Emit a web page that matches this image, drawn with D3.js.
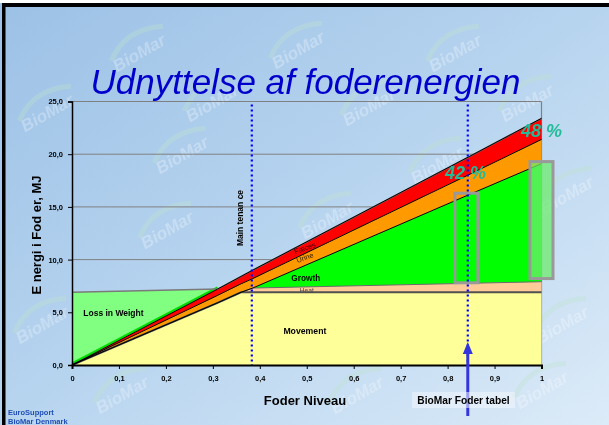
<!DOCTYPE html>
<html><head><meta charset="utf-8">
<script src="https://cdn.jsdelivr.net/npm/d3@7"></script>
<style>html,body{margin:0;padding:0;background:#fff}svg{display:block}</style>
</head><body>
<script>
// ---------- data ----------
const feedLevels   = [0, 0.31, 0.36, 0.385, 0.845, 1];
const movement     = [0, 5.9, 6.9, 6.9, 6.9, 6.9];
const heat         = [0, 0, 0, 0.4, 0.85, 1.0];
const growth       = [0, 0, 0, 0, 8.4, 11.2];
const urine        = [0, 0.7, 0.8, 0.9, 1.9, 2.3];
const faeces       = [0, 0.6, 0.7, 0.8, 1.7, 2.0];
const lossInWeight = [6.9, 0, 0, 0, 0, 0];
const seriesKeys   = ["Movement","Heat","Growth","Urine","Faeces","Loss in Weight"];
const yTicks = [0,5,10,15,20,25];
const yTickLabels = ["0,0","5,0","10,0","15,0","20,0","25,0"];
const xTicks = [0,0.1,0.2,0.3,0.4,0.5,0.6,0.7,0.8,0.9,1];
const xTickLabels = ["0","0,1","0,2","0,3","0,4","0,5","0,6","0,7","0,8","0,9","1"];
const maintenanceLevel = 0.383;
const foderTabelLevel = 0.843;
const boxLevels = [0.84, 1.0];
const boxLow    = [7.8, 8.2];
const boxHigh   = [16.3, 19.3];
const pctLabels = ["42 %", "48 %"];
const pctLevels = [0.838, 1.0];
const pctValues = [17.6, 21.6];

const W = 609, H = 425;
const svg = d3.select("body").append("svg").attr("width", W).attr("height", H)
  .style("font-family", "'Liberation Sans', Arial, sans-serif");

// ---------- background ----------
const defs = svg.append("defs");
const lg = defs.append("linearGradient").attr("id","bg").attr("x1","0").attr("y1","0").attr("x2","1").attr("y2","1");
lg.append("stop").attr("offset","0").attr("stop-color","#9cc1e6");
lg.append("stop").attr("offset","0.5").attr("stop-color","#b7d4ef");
lg.append("stop").attr("offset","1").attr("stop-color","#dcebf8");
svg.append("rect").attr("width",W).attr("height",H).attr("fill","#fff");
svg.append("rect").attr("x",0).attr("y",3).attr("width",W).attr("height",H-3).attr("fill","url(#bg)");
const wm = [[142,58],[301,55],[458,58],[50,118],[215,108],[372,112],[530,108],[185,160],[440,170],[570,200],[170,235],[330,225],[530,225],[45,330],[260,320],[470,300],[565,330],[125,400],[360,400],[545,395]];
const wg = svg.append("g").attr("opacity",0.35);
wm.forEach(([px,py])=>{
  const g = wg.append("g").attr("transform",`translate(${px},${py}) rotate(-30)`);
  g.append("path").attr("d","M-28,-13 Q0,-34 34,-17").attr("fill","none").attr("stroke","#bfe3cf").attr("stroke-width",5);
  g.append("text").text("BioMar").attr("text-anchor","middle").attr("font-size",17)
    .attr("font-style","italic").attr("font-weight","bold").attr("fill","#ffffff").attr("opacity",0.8);
});
// frame lines
svg.append("rect").attr("x",2).attr("y",3).attr("width",W).attr("height",4).attr("fill","#000");
svg.append("rect").attr("x",2).attr("y",3).attr("width",3.5).attr("height",H).attr("fill","#000");

// ---------- scales ----------
const x = d3.scaleLinear().domain([0,1]).range([72,541.5]);
const y = d3.scaleLinear().domain([0,25]).range([365,101.5]);

// title
svg.append("text").text("Udnyttelse af foderenergien")
  .attr("x", 305.5).attr("y", 94).attr("text-anchor","middle")
  .attr("font-size", 35).attr("font-style","italic").attr("fill","#0000cc");

// gridlines + frame
svg.append("g").selectAll("line").data(yTicks.slice(1)).join("line")
  .attr("x1",x(0)).attr("x2",x(1)).attr("y1",d=>y(d)).attr("y2",d=>y(d))
  .attr("stroke","#808080").attr("stroke-width",1);
svg.append("line").attr("x1",x(1)).attr("x2",x(1)).attr("y1",y(25)).attr("y2",y(0))
  .attr("stroke","#808080").attr("stroke-width",1.2);

// ---------- stacked areas ----------
const rows = feedLevels.map((f,i)=>({feed:f, "Movement":movement[i], "Heat":heat[i], "Growth":growth[i],
  "Urine":urine[i], "Faeces":faeces[i], "Loss in Weight":lossInWeight[i]}));
const stack = d3.stack().keys(seriesKeys)(rows);
const fills = {"Movement":"#ffff99","Heat":"#ffcc99","Growth":"#00ff00","Urine":"#ff9900","Faeces":"#ff0000","Loss in Weight":"#80ff80"};
const area = d3.area().x(d=>x(d.data.feed)).y0(d=>y(d[0])).y1(d=>y(d[1]));
const topLine = d3.line().x(d=>x(d.data.feed)).y(d=>y(d[1]));
svg.append("g").selectAll("path").data(stack).join("path")
  .attr("d", area).attr("fill", s=>fills[s.key]);

const byKey = Object.fromEntries(stack.map(s=>[s.key,s]));
// green strip above the loss-region diagonal
svg.append("path").attr("d", topLine(byKey["Faeces"].slice(0,2)))
  .attr("transform","translate(0,-1.6)").attr("fill","none").attr("stroke","#00dd00").attr("stroke-width",2.2);
// edges
const edge = (key, color, w) => svg.append("path").attr("d", topLine(byKey[key]))
  .attr("fill","none").attr("stroke",color).attr("stroke-width",w);
edge("Loss in Weight","#7a7a7a",1.5);
edge("Heat","#6b6b6b",1);
edge("Movement","#505050",2);
edge("Growth","#000",1);
edge("Urine","#000",1);
edge("Faeces","#000",1);

// ---------- highlight boxes ----------
svg.append("g").selectAll("rect").data(boxLevels).join("rect")
  .attr("x",(d)=>x(d)-11.5).attr("width",23)
  .attr("y",(d,i)=>y(boxHigh[i])).attr("height",(d,i)=>y(boxLow[i])-y(boxHigh[i]))
  .attr("fill",(d,i)=> i===1 ? "rgba(110,235,110,0.75)" : "none")
  .attr("stroke","#999").attr("stroke-width",3);

// ---------- dotted reference lines ----------
[maintenanceLevel, foderTabelLevel].forEach(v=>{
  svg.append("line").attr("x1",x(v)).attr("x2",x(v)).attr("y1",y(25)+3).attr("y2",y(0))
    .attr("stroke","#0000ff").attr("stroke-width",2.2).attr("stroke-dasharray","2,3");
});

// ---------- axes ----------
const yAxis = svg.append("g").attr("transform",`translate(${x(0)},0)`)
  .call(d3.axisLeft(y).tickValues(yTicks).tickFormat((d,i)=>yTickLabels[i]).tickSize(4).tickPadding(5));
yAxis.select(".domain").attr("stroke","#000").attr("stroke-width",1.5);
yAxis.selectAll("text").attr("font-size",7.5).attr("font-weight","bold").attr("fill","#000")
  .attr("font-family","'Liberation Sans', Arial, sans-serif");
const xAxis = svg.append("g").attr("transform",`translate(0,${y(0)})`)
  .call(d3.axisBottom(x).tickValues(xTicks).tickFormat((d,i)=>xTickLabels[i]).tickSize(4).tickPadding(7));
xAxis.select(".domain").attr("stroke","#000").attr("stroke-width",2);
xAxis.selectAll("text").attr("font-size",7.5).attr("font-weight","bold").attr("fill","#000")
  .attr("font-family","'Liberation Sans', Arial, sans-serif");

svg.append("text").text("Foder Niveau").attr("x",305).attr("y",405).attr("text-anchor","middle")
  .attr("font-size",13).attr("font-weight","bold");
svg.append("text").text("E nergi i Fod er, MJ").attr("transform","translate(41,235) rotate(-90)")
  .attr("text-anchor","middle").attr("font-size",13).attr("font-weight","bold");

// ---------- in-chart labels ----------
const lbl = (t, px, py, opts={}) => svg.append("text").text(t).attr("x",px).attr("y",py)
  .attr("text-anchor",opts.anchor||"middle").attr("font-size",opts.size||8.5)
  .attr("font-weight",opts.weight||"bold").attr("fill",opts.fill||"#000")
  .attr("transform",opts.rot?`rotate(${opts.rot},${px},${py})`:null);
lbl("Loss in Weight", x(0.024), y(4.96)+3, {anchor:"start"});
lbl("Movement", x(0.496), y(3.23)+3, {size:8.7});
lbl("Growth", x(0.498), y(8.28)+3, {size:8.3});
lbl("Heat", x(0.5), 293, {size:6.8, weight:"normal", fill:"#4a4a4a"});
lbl("Urine", x(0.498), y(10.2)+2.5, {size:7.3, weight:"normal", fill:"#2a1a00", rot:-20});
lbl("Fæces", x(0.498), y(11.1)+2.5, {size:7.3, weight:"normal", fill:"#300000", rot:-20});
svg.append("text").text("Main tenan ce").attr("transform",`translate(${x(maintenanceLevel)-8.5},218) rotate(-90)`)
  .attr("text-anchor","middle").attr("font-size",8.5).attr("font-weight","bold");

// percent labels
svg.append("g").selectAll("text").data(pctLabels).join("text").text(d=>d)
  .attr("x",(d,i)=>x(pctLevels[i])).attr("y",(d,i)=>y(pctValues[i]))
  .attr("text-anchor","middle").attr("font-size",18).attr("font-weight","bold").attr("font-style","italic")
  .attr("fill","#22bb99");

// ---------- arrow + foder tabel label ----------
const ax = x(foderTabelLevel);
svg.append("line").attr("x1",ax).attr("x2",ax).attr("y1",416).attr("y2",352).attr("stroke","#3535dd").attr("stroke-width",3);
svg.append("path").attr("d",`M${ax},342 L${ax-5},354 L${ax+5},354 Z`).attr("fill","#3535dd");
svg.append("rect").attr("x",412).attr("y",392).attr("width",103).attr("height",16).attr("fill","rgba(240,246,252,0.55)");
svg.append("text").text("BioMar Foder tabel").attr("x",463.5).attr("y",404).attr("text-anchor","middle")
  .attr("font-size",10.2).attr("font-weight","bold");

// ---------- footer ----------
svg.append("text").text("EuroSupport").attr("x",8).attr("y",415).attr("font-size",7.5).attr("font-weight","bold").attr("fill","#1f4fb5");
svg.append("text").text("BioMar Denmark").attr("x",8).attr("y",424).attr("font-size",7.5).attr("font-weight","bold").attr("fill","#1f4fb5");
</script>
</body></html>
